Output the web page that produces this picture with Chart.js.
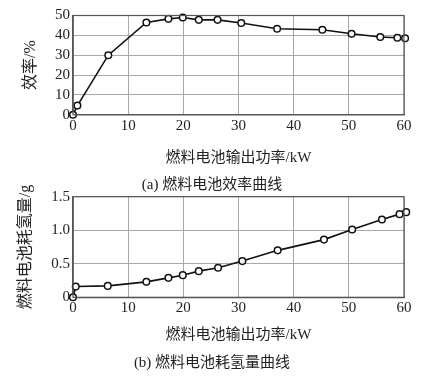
<!DOCTYPE html>
<html><head><meta charset="utf-8">
<script src="https://cdn.jsdelivr.net/npm/chart.js@4/dist/chart.umd.min.js"></script>
<style>
html,body{margin:0;padding:0;background:#fff;}
#wrap{position:relative;width:424px;height:380px;overflow:hidden;}
.c{position:absolute;left:0;}
.cap{position:absolute;left:0;width:424px;text-align:center;font-family:"Liberation Serif","Noto Sans CJK SC",serif;font-size:15px;color:#222;white-space:nowrap;}
</style></head><body>
<div id="wrap">
  <div class="c" style="top:0;width:424px;height:180px;"><canvas id="c1"></canvas></div>
  <div class="c" style="top:180px;width:424px;height:200px;"><canvas id="c2"></canvas></div>
  <div class="cap" style="top:172px;">(a) 燃料电池效率曲线</div>
  <div class="cap" style="top:350px;">(b) 燃料电池耗氢量曲线</div>
</div>
<script>
// (a) efficiency
const powerA = [0, 0.8, 6.4, 13.3, 17.3, 19.9, 22.8, 26.2, 30.5, 37, 45.2, 50.5, 55.7, 58.8, 60.2];
const efficiency = [0, 4.6, 30, 46.5, 48.3, 49, 47.8, 47.8, 46.2, 43.3, 42.8, 40.8, 39.2, 38.8, 38.5];
// (b) hydrogen consumption
const powerB = [0, 0.5, 6.3, 13.3, 17.3, 19.9, 22.8, 26.3, 30.7, 37.1, 45.5, 50.6, 56, 59.2, 60.4];
const hydrogen = [0, 0.16, 0.17, 0.23, 0.29, 0.33, 0.39, 0.44, 0.54, 0.70, 0.86, 1.01, 1.16, 1.24, 1.27];

const xTitle = '燃料电池输出功率/kW';
const yTitleA = '效率/%';
const yTitleB = '燃料电池耗氢量/g';

const FONT = '"Liberation Serif","Noto Sans CJK SC",serif';
const TXT = '#222';
const GRID = '#a8a8a8';
const BORDER = '#555';

function makeChart(id, xs, ys, yMax, yStep, yTitle, yFmt, pad, xAxisH, xTitlePadB, yTitlePadT) {
  const data = xs.map((x, i) => ({x: x, y: ys[i]}));
  return new Chart(document.getElementById(id), {
    type: 'scatter',
    data: {datasets: [{
      data: data, showLine: true, borderColor: '#111', borderWidth: 1.6,
      pointRadius: 3.3, pointBorderWidth: 1.5, pointBackgroundColor: '#fff',
      pointBorderColor: '#111', clip: false, tension: 0
    }]},
    options: {
      responsive: true, maintainAspectRatio: false, animation: false,
      layout: {padding: pad},
      plugins: {legend: {display: false}, tooltip: {enabled: false}},
      scales: {
        x: {
          type: 'linear', min: 0, max: 60,
          ticks: {stepSize: 10, color: TXT, font: {family: FONT, size: 15}, padding: 2, maxRotation: 0, autoSkip: false},
          grid: {color: GRID, lineWidth: 1, drawTicks: false},
          border: {color: BORDER, width: 1.2},
          title: {display: true, text: xTitle, color: TXT, font: {family: FONT, size: 15}, padding: {top: 0, bottom: xTitlePadB}},
          afterFit: s => { s.height = xAxisH; }
        },
        y: {
          min: 0, max: yMax,
          ticks: {stepSize: yStep, color: TXT, font: {family: FONT, size: 15}, padding: 3, callback: yFmt, autoSkip: false},
          grid: {color: GRID, lineWidth: 1, drawTicks: false},
          border: {color: BORDER, width: 1.2},
          title: {display: true, text: yTitle, color: TXT, font: {family: FONT, size: 16}, padding: {top: yTitlePadT, bottom: 0}},
          afterFit: s => { s.width = 73; }
        }
      }
    },
    plugins: [{
      id: 'frame',
      afterDatasetsDraw(chart) {
        const {ctx, chartArea: a} = chart;
        ctx.save();
        ctx.strokeStyle = BORDER; ctx.lineWidth = 1.2;
        ctx.strokeRect(a.left, a.top, a.right - a.left, a.bottom - a.top);
        ctx.restore();
      }
    }]
  });
}

makeChart('c1', powerA, efficiency, 50, 10, yTitleA, v => String(v),
  {left: 0, right: 20, top: 15.5, bottom: 0}, 65.3, 12.6, 21);
makeChart('c2', powerB, hydrogen, 1.5, 0.5, yTitleB, v => v === 0 ? '0' : v.toFixed(1),
  {left: 0, right: 20, top: 16.7, bottom: 0}, 82.7, 36, 16);
</script>
</body></html>
